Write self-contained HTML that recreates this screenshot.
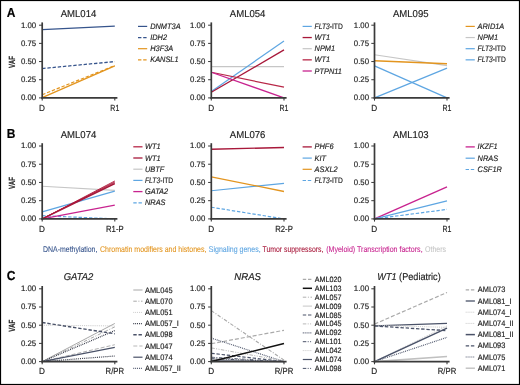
<!DOCTYPE html>
<html><head><meta charset="utf-8"><title>Figure</title>
<style>
html,body{margin:0;padding:0;background:#fff;}
body{width:520px;height:385px;overflow:hidden;}
svg{display:block;font-family:"Liberation Sans", sans-serif;will-change:transform;text-rendering:geometricPrecision;}

</style></head>
<body>
<svg width="520" height="385" viewBox="0 0 520 385" fill="#222">
<rect x="0" y="0" width="520" height="385" fill="#fff"/>
<line x1="42.20" y1="29.71" x2="114.80" y2="26.22" stroke="#36548c" stroke-width="1.2"/>
<line x1="42.20" y1="68.53" x2="114.80" y2="61.55" stroke="#36548c" stroke-width="1.3" stroke-dasharray="3.4 1.8"/>
<line x1="42.20" y1="94.70" x2="114.80" y2="65.55" stroke="#e3951f" stroke-width="1.2" stroke-dasharray="3.4 1.8"/>
<line x1="42.20" y1="97.54" x2="114.80" y2="65.91" stroke="#e3951f" stroke-width="1.3"/>
<line x1="42.20" y1="22.40" x2="42.20" y2="98.75" stroke="#3a3a3a" stroke-width="1.7"/>
<line x1="41.35" y1="97.90" x2="117.40" y2="97.90" stroke="#3a3a3a" stroke-width="1.7"/>
<line x1="39.00" y1="25.20" x2="42.20" y2="25.20" stroke="#3a3a3a" stroke-width="1.0"/>
<text transform="translate(36.20 27.55) scale(1 1.08)" x="0" y="0" font-size="7.4" text-anchor="end" textLength="15.2" lengthAdjust="spacingAndGlyphs" stroke="#222" stroke-width="0.15">1.00</text>
<line x1="39.00" y1="43.38" x2="42.20" y2="43.38" stroke="#3a3a3a" stroke-width="1.0"/>
<text transform="translate(36.20 45.73) scale(1 1.08)" x="0" y="0" font-size="7.4" text-anchor="end" textLength="15.2" lengthAdjust="spacingAndGlyphs" stroke="#222" stroke-width="0.15">0.75</text>
<line x1="39.00" y1="61.55" x2="42.20" y2="61.55" stroke="#3a3a3a" stroke-width="1.0"/>
<text transform="translate(36.20 63.90) scale(1 1.08)" x="0" y="0" font-size="7.4" text-anchor="end" textLength="15.2" lengthAdjust="spacingAndGlyphs" stroke="#222" stroke-width="0.15">0.50</text>
<line x1="39.00" y1="79.73" x2="42.20" y2="79.73" stroke="#3a3a3a" stroke-width="1.0"/>
<text transform="translate(36.20 82.08) scale(1 1.08)" x="0" y="0" font-size="7.4" text-anchor="end" textLength="15.2" lengthAdjust="spacingAndGlyphs" stroke="#222" stroke-width="0.15">0.25</text>
<line x1="39.00" y1="97.90" x2="42.20" y2="97.90" stroke="#3a3a3a" stroke-width="1.0"/>
<text transform="translate(36.20 100.25) scale(1 1.08)" x="0" y="0" font-size="7.4" text-anchor="end" textLength="15.2" lengthAdjust="spacingAndGlyphs" stroke="#222" stroke-width="0.15">0.00</text>
<line x1="42.20" y1="97.90" x2="42.20" y2="100.60" stroke="#3a3a3a" stroke-width="1.1"/>
<line x1="114.80" y1="97.90" x2="114.80" y2="100.60" stroke="#3a3a3a" stroke-width="1.1"/>
<text transform="translate(42.00 110.60) scale(1 1.08)" x="0" y="0" font-size="8.2" text-anchor="middle" stroke="#222" stroke-width="0.15">D</text>
<text transform="translate(114.80 110.60) scale(1 1.08)" x="0" y="0" font-size="8.2" text-anchor="middle" textLength="8.9" lengthAdjust="spacingAndGlyphs" stroke="#222" stroke-width="0.15">R1</text>
<text transform="translate(78.50 16.70) scale(1 1.08)" x="0" y="0" font-size="9.2" text-anchor="middle" textLength="35.6" lengthAdjust="spacingAndGlyphs" stroke="#222" stroke-width="0.15">AML014</text>
<text transform="translate(14.6,62.05) rotate(-90)" font-size="9" font-weight="bold" text-anchor="middle" textLength="12" lengthAdjust="spacingAndGlyphs" stroke="#222" stroke-width="0.15">VAF</text>
<line x1="138.00" y1="26.40" x2="147.20" y2="26.40" stroke="#36548c" stroke-width="1.2"/>
<text transform="translate(150.20 28.90) scale(1 1.08)" x="0" y="0" font-size="7.4" stroke="#222" stroke-width="0.15"><tspan font-style="italic" stroke="#222" stroke-width="0.15">DNMT3A</tspan></text>
<line x1="138.00" y1="37.55" x2="147.20" y2="37.55" stroke="#36548c" stroke-width="1.2" stroke-dasharray="3.4 1.8"/>
<text transform="translate(150.20 40.05) scale(1 1.08)" x="0" y="0" font-size="7.4" stroke="#222" stroke-width="0.15"><tspan font-style="italic" stroke="#222" stroke-width="0.15">IDH2</tspan></text>
<line x1="138.00" y1="48.70" x2="147.20" y2="48.70" stroke="#e3951f" stroke-width="1.2"/>
<text transform="translate(150.20 51.20) scale(1 1.08)" x="0" y="0" font-size="7.4" stroke="#222" stroke-width="0.15"><tspan font-style="italic" stroke="#222" stroke-width="0.15">H3F3A</tspan></text>
<line x1="138.00" y1="59.85" x2="147.20" y2="59.85" stroke="#e3951f" stroke-width="1.2" stroke-dasharray="3.4 1.8"/>
<text transform="translate(150.20 62.35) scale(1 1.08)" x="0" y="0" font-size="7.4" stroke="#222" stroke-width="0.15"><tspan font-style="italic" stroke="#222" stroke-width="0.15">KANSL1</tspan></text>
<line x1="211.30" y1="66.64" x2="284.00" y2="66.64" stroke="#c6c6c6" stroke-width="1.2"/>
<line x1="211.30" y1="91.43" x2="284.00" y2="40.98" stroke="#5ea6e2" stroke-width="1.2"/>
<line x1="211.30" y1="92.23" x2="284.00" y2="49.92" stroke="#a8183a" stroke-width="1.3"/>
<line x1="211.30" y1="72.24" x2="284.00" y2="87.21" stroke="#b82848" stroke-width="1.2"/>
<line x1="211.30" y1="72.24" x2="284.00" y2="97.90" stroke="#c8238f" stroke-width="1.3"/>
<line x1="211.30" y1="22.40" x2="211.30" y2="98.75" stroke="#3a3a3a" stroke-width="1.7"/>
<line x1="210.45" y1="97.90" x2="286.60" y2="97.90" stroke="#3a3a3a" stroke-width="1.7"/>
<line x1="208.10" y1="25.20" x2="211.30" y2="25.20" stroke="#3a3a3a" stroke-width="1.0"/>
<text transform="translate(205.30 27.55) scale(1 1.08)" x="0" y="0" font-size="7.4" text-anchor="end" textLength="15.2" lengthAdjust="spacingAndGlyphs" stroke="#222" stroke-width="0.15">1.00</text>
<line x1="208.10" y1="43.38" x2="211.30" y2="43.38" stroke="#3a3a3a" stroke-width="1.0"/>
<text transform="translate(205.30 45.73) scale(1 1.08)" x="0" y="0" font-size="7.4" text-anchor="end" textLength="15.2" lengthAdjust="spacingAndGlyphs" stroke="#222" stroke-width="0.15">0.75</text>
<line x1="208.10" y1="61.55" x2="211.30" y2="61.55" stroke="#3a3a3a" stroke-width="1.0"/>
<text transform="translate(205.30 63.90) scale(1 1.08)" x="0" y="0" font-size="7.4" text-anchor="end" textLength="15.2" lengthAdjust="spacingAndGlyphs" stroke="#222" stroke-width="0.15">0.50</text>
<line x1="208.10" y1="79.73" x2="211.30" y2="79.73" stroke="#3a3a3a" stroke-width="1.0"/>
<text transform="translate(205.30 82.08) scale(1 1.08)" x="0" y="0" font-size="7.4" text-anchor="end" textLength="15.2" lengthAdjust="spacingAndGlyphs" stroke="#222" stroke-width="0.15">0.25</text>
<line x1="208.10" y1="97.90" x2="211.30" y2="97.90" stroke="#3a3a3a" stroke-width="1.0"/>
<text transform="translate(205.30 100.25) scale(1 1.08)" x="0" y="0" font-size="7.4" text-anchor="end" textLength="15.2" lengthAdjust="spacingAndGlyphs" stroke="#222" stroke-width="0.15">0.00</text>
<line x1="211.30" y1="97.90" x2="211.30" y2="100.60" stroke="#3a3a3a" stroke-width="1.1"/>
<line x1="284.00" y1="97.90" x2="284.00" y2="100.60" stroke="#3a3a3a" stroke-width="1.1"/>
<text transform="translate(211.10 110.60) scale(1 1.08)" x="0" y="0" font-size="8.2" text-anchor="middle" stroke="#222" stroke-width="0.15">D</text>
<text transform="translate(284.00 110.60) scale(1 1.08)" x="0" y="0" font-size="8.2" text-anchor="middle" textLength="8.9" lengthAdjust="spacingAndGlyphs" stroke="#222" stroke-width="0.15">R1</text>
<text transform="translate(247.65 16.70) scale(1 1.08)" x="0" y="0" font-size="9.2" text-anchor="middle" textLength="35.6" lengthAdjust="spacingAndGlyphs" stroke="#222" stroke-width="0.15">AML054</text>
<line x1="302.60" y1="26.40" x2="311.80" y2="26.40" stroke="#5ea6e2" stroke-width="1.2"/>
<text transform="translate(314.60 28.90) scale(1 1.08)" x="0" y="0" font-size="7.4" textLength="28.2" lengthAdjust="spacingAndGlyphs" stroke="#222" stroke-width="0.15"><tspan font-style="italic" stroke="#222" stroke-width="0.15">FLT3</tspan>-ITD</text>
<line x1="302.60" y1="37.55" x2="311.80" y2="37.55" stroke="#a8183a" stroke-width="1.3"/>
<text transform="translate(314.60 40.05) scale(1 1.08)" x="0" y="0" font-size="7.4" stroke="#222" stroke-width="0.15"><tspan font-style="italic" stroke="#222" stroke-width="0.15">WT1</tspan></text>
<line x1="302.60" y1="48.70" x2="311.80" y2="48.70" stroke="#c6c6c6" stroke-width="1.2"/>
<text transform="translate(314.60 51.20) scale(1 1.08)" x="0" y="0" font-size="7.4" stroke="#222" stroke-width="0.15"><tspan font-style="italic" stroke="#222" stroke-width="0.15">NPM1</tspan></text>
<line x1="302.60" y1="59.85" x2="311.80" y2="59.85" stroke="#b82848" stroke-width="1.3"/>
<text transform="translate(314.60 62.35) scale(1 1.08)" x="0" y="0" font-size="7.4" stroke="#222" stroke-width="0.15"><tspan font-style="italic" stroke="#222" stroke-width="0.15">WT1</tspan></text>
<line x1="302.60" y1="71.00" x2="311.80" y2="71.00" stroke="#c8238f" stroke-width="1.3"/>
<text transform="translate(314.60 73.50) scale(1 1.08)" x="0" y="0" font-size="7.4" stroke="#222" stroke-width="0.15"><tspan font-style="italic" stroke="#222" stroke-width="0.15">PTPN11</tspan></text>
<line x1="374.50" y1="54.72" x2="447.00" y2="65.69" stroke="#c6c6c6" stroke-width="1.2"/>
<line x1="374.50" y1="60.68" x2="447.00" y2="63.73" stroke="#e3951f" stroke-width="1.4"/>
<line x1="374.50" y1="65.91" x2="447.00" y2="97.90" stroke="#5ea6e2" stroke-width="1.2"/>
<line x1="374.50" y1="97.90" x2="447.00" y2="68.09" stroke="#5ea6e2" stroke-width="1.2"/>
<line x1="374.50" y1="22.40" x2="374.50" y2="98.75" stroke="#3a3a3a" stroke-width="1.7"/>
<line x1="373.65" y1="97.90" x2="449.60" y2="97.90" stroke="#3a3a3a" stroke-width="1.7"/>
<line x1="371.30" y1="25.20" x2="374.50" y2="25.20" stroke="#3a3a3a" stroke-width="1.0"/>
<text transform="translate(369.00 27.55) scale(1 1.08)" x="0" y="0" font-size="7.4" text-anchor="end" textLength="15.2" lengthAdjust="spacingAndGlyphs" stroke="#222" stroke-width="0.15">1.00</text>
<line x1="371.30" y1="43.38" x2="374.50" y2="43.38" stroke="#3a3a3a" stroke-width="1.0"/>
<text transform="translate(369.00 45.73) scale(1 1.08)" x="0" y="0" font-size="7.4" text-anchor="end" textLength="15.2" lengthAdjust="spacingAndGlyphs" stroke="#222" stroke-width="0.15">0.75</text>
<line x1="371.30" y1="61.55" x2="374.50" y2="61.55" stroke="#3a3a3a" stroke-width="1.0"/>
<text transform="translate(369.00 63.90) scale(1 1.08)" x="0" y="0" font-size="7.4" text-anchor="end" textLength="15.2" lengthAdjust="spacingAndGlyphs" stroke="#222" stroke-width="0.15">0.50</text>
<line x1="371.30" y1="79.73" x2="374.50" y2="79.73" stroke="#3a3a3a" stroke-width="1.0"/>
<text transform="translate(369.00 82.08) scale(1 1.08)" x="0" y="0" font-size="7.4" text-anchor="end" textLength="15.2" lengthAdjust="spacingAndGlyphs" stroke="#222" stroke-width="0.15">0.25</text>
<line x1="371.30" y1="97.90" x2="374.50" y2="97.90" stroke="#3a3a3a" stroke-width="1.0"/>
<text transform="translate(369.00 100.25) scale(1 1.08)" x="0" y="0" font-size="7.4" text-anchor="end" textLength="15.2" lengthAdjust="spacingAndGlyphs" stroke="#222" stroke-width="0.15">0.00</text>
<line x1="374.50" y1="97.90" x2="374.50" y2="100.60" stroke="#3a3a3a" stroke-width="1.1"/>
<line x1="447.00" y1="97.90" x2="447.00" y2="100.60" stroke="#3a3a3a" stroke-width="1.1"/>
<text transform="translate(374.30 110.60) scale(1 1.08)" x="0" y="0" font-size="8.2" text-anchor="middle" stroke="#222" stroke-width="0.15">D</text>
<text transform="translate(447.00 110.60) scale(1 1.08)" x="0" y="0" font-size="8.2" text-anchor="middle" textLength="8.9" lengthAdjust="spacingAndGlyphs" stroke="#222" stroke-width="0.15">R1</text>
<text transform="translate(410.75 16.70) scale(1 1.08)" x="0" y="0" font-size="9.2" text-anchor="middle" textLength="35.6" lengthAdjust="spacingAndGlyphs" stroke="#222" stroke-width="0.15">AML095</text>
<line x1="465.60" y1="26.40" x2="474.80" y2="26.40" stroke="#e3951f" stroke-width="1.2"/>
<text transform="translate(477.60 28.90) scale(1 1.08)" x="0" y="0" font-size="7.4" stroke="#222" stroke-width="0.15"><tspan font-style="italic" stroke="#222" stroke-width="0.15">ARID1A</tspan></text>
<line x1="465.60" y1="37.55" x2="474.80" y2="37.55" stroke="#c6c6c6" stroke-width="1.2"/>
<text transform="translate(477.60 40.05) scale(1 1.08)" x="0" y="0" font-size="7.4" stroke="#222" stroke-width="0.15"><tspan font-style="italic" stroke="#222" stroke-width="0.15">NPM1</tspan></text>
<line x1="465.60" y1="48.70" x2="474.80" y2="48.70" stroke="#5ea6e2" stroke-width="1.2"/>
<text transform="translate(477.60 51.20) scale(1 1.08)" x="0" y="0" font-size="7.4" textLength="28.2" lengthAdjust="spacingAndGlyphs" stroke="#222" stroke-width="0.15"><tspan font-style="italic" stroke="#222" stroke-width="0.15">FLT3</tspan>-ITD</text>
<line x1="465.60" y1="59.85" x2="474.80" y2="59.85" stroke="#5ea6e2" stroke-width="1.2"/>
<text transform="translate(477.60 62.35) scale(1 1.08)" x="0" y="0" font-size="7.4" textLength="28.2" lengthAdjust="spacingAndGlyphs" stroke="#222" stroke-width="0.15"><tspan font-style="italic" stroke="#222" stroke-width="0.15">FLT3</tspan>-ITD</text>
<line x1="42.20" y1="186.24" x2="114.80" y2="190.47" stroke="#c6c6c6" stroke-width="1.2"/>
<line x1="42.20" y1="211.90" x2="114.80" y2="191.20" stroke="#5ea6e2" stroke-width="1.2"/>
<line x1="42.20" y1="215.69" x2="114.80" y2="218.90" stroke="#5ea6e2" stroke-width="1.2" stroke-dasharray="3.4 1.8"/>
<line x1="42.20" y1="218.90" x2="114.80" y2="205.05" stroke="#c8238f" stroke-width="1.2"/>
<line x1="42.20" y1="218.90" x2="114.80" y2="180.99" stroke="#b82848" stroke-width="1.0"/>
<line x1="42.20" y1="218.90" x2="114.80" y2="183.54" stroke="#a8183a" stroke-width="1.6"/>
<line x1="42.20" y1="218.90" x2="114.80" y2="182.09" stroke="#a8183a" stroke-width="1.0"/>
<line x1="42.20" y1="143.20" x2="42.20" y2="219.75" stroke="#3a3a3a" stroke-width="1.7"/>
<line x1="41.35" y1="218.90" x2="117.40" y2="218.90" stroke="#3a3a3a" stroke-width="1.7"/>
<line x1="39.00" y1="146.00" x2="42.20" y2="146.00" stroke="#3a3a3a" stroke-width="1.0"/>
<text transform="translate(36.20 148.35) scale(1 1.08)" x="0" y="0" font-size="7.4" text-anchor="end" textLength="15.2" lengthAdjust="spacingAndGlyphs" stroke="#222" stroke-width="0.15">1.00</text>
<line x1="39.00" y1="164.22" x2="42.20" y2="164.22" stroke="#3a3a3a" stroke-width="1.0"/>
<text transform="translate(36.20 166.57) scale(1 1.08)" x="0" y="0" font-size="7.4" text-anchor="end" textLength="15.2" lengthAdjust="spacingAndGlyphs" stroke="#222" stroke-width="0.15">0.75</text>
<line x1="39.00" y1="182.45" x2="42.20" y2="182.45" stroke="#3a3a3a" stroke-width="1.0"/>
<text transform="translate(36.20 184.80) scale(1 1.08)" x="0" y="0" font-size="7.4" text-anchor="end" textLength="15.2" lengthAdjust="spacingAndGlyphs" stroke="#222" stroke-width="0.15">0.50</text>
<line x1="39.00" y1="200.68" x2="42.20" y2="200.68" stroke="#3a3a3a" stroke-width="1.0"/>
<text transform="translate(36.20 203.03) scale(1 1.08)" x="0" y="0" font-size="7.4" text-anchor="end" textLength="15.2" lengthAdjust="spacingAndGlyphs" stroke="#222" stroke-width="0.15">0.25</text>
<line x1="39.00" y1="218.90" x2="42.20" y2="218.90" stroke="#3a3a3a" stroke-width="1.0"/>
<text transform="translate(36.20 221.25) scale(1 1.08)" x="0" y="0" font-size="7.4" text-anchor="end" textLength="15.2" lengthAdjust="spacingAndGlyphs" stroke="#222" stroke-width="0.15">0.00</text>
<line x1="42.20" y1="218.90" x2="42.20" y2="221.60" stroke="#3a3a3a" stroke-width="1.1"/>
<line x1="114.80" y1="218.90" x2="114.80" y2="221.60" stroke="#3a3a3a" stroke-width="1.1"/>
<text transform="translate(42.00 231.60) scale(1 1.08)" x="0" y="0" font-size="8.2" text-anchor="middle" stroke="#222" stroke-width="0.15">D</text>
<text transform="translate(114.80 231.60) scale(1 1.08)" x="0" y="0" font-size="8.2" text-anchor="middle" textLength="17.6" lengthAdjust="spacingAndGlyphs" stroke="#222" stroke-width="0.15">R1-P</text>
<text transform="translate(78.50 137.50) scale(1 1.08)" x="0" y="0" font-size="9.2" text-anchor="middle" textLength="35.6" lengthAdjust="spacingAndGlyphs" stroke="#222" stroke-width="0.15">AML074</text>
<text transform="translate(14.6,182.95) rotate(-90)" font-size="9" font-weight="bold" text-anchor="middle" textLength="12" lengthAdjust="spacingAndGlyphs" stroke="#222" stroke-width="0.15">VAF</text>
<line x1="133.30" y1="146.80" x2="142.50" y2="146.80" stroke="#b82848" stroke-width="1.3"/>
<text transform="translate(145.00 149.30) scale(1 1.08)" x="0" y="0" font-size="7.4" stroke="#222" stroke-width="0.15"><tspan font-style="italic" stroke="#222" stroke-width="0.15">WT1</tspan></text>
<line x1="133.30" y1="158.00" x2="142.50" y2="158.00" stroke="#a8183a" stroke-width="1.3"/>
<text transform="translate(145.00 160.50) scale(1 1.08)" x="0" y="0" font-size="7.4" stroke="#222" stroke-width="0.15"><tspan font-style="italic" stroke="#222" stroke-width="0.15">WT1</tspan></text>
<line x1="133.30" y1="169.20" x2="142.50" y2="169.20" stroke="#c6c6c6" stroke-width="1.2"/>
<text transform="translate(145.00 171.70) scale(1 1.08)" x="0" y="0" font-size="7.4" stroke="#222" stroke-width="0.15"><tspan font-style="italic" stroke="#222" stroke-width="0.15">UBTF</tspan></text>
<line x1="133.30" y1="180.40" x2="142.50" y2="180.40" stroke="#5ea6e2" stroke-width="1.2"/>
<text transform="translate(145.00 182.90) scale(1 1.08)" x="0" y="0" font-size="7.4" textLength="28.2" lengthAdjust="spacingAndGlyphs" stroke="#222" stroke-width="0.15"><tspan font-style="italic" stroke="#222" stroke-width="0.15">FLT3</tspan>-ITD</text>
<line x1="133.30" y1="191.60" x2="142.50" y2="191.60" stroke="#c8238f" stroke-width="1.3"/>
<text transform="translate(145.00 194.10) scale(1 1.08)" x="0" y="0" font-size="7.4" stroke="#222" stroke-width="0.15"><tspan font-style="italic" stroke="#222" stroke-width="0.15">GATA2</tspan></text>
<line x1="133.30" y1="202.80" x2="142.50" y2="202.80" stroke="#5ea6e2" stroke-width="1.2" stroke-dasharray="3.4 1.8"/>
<text transform="translate(145.00 205.30) scale(1 1.08)" x="0" y="0" font-size="7.4" stroke="#222" stroke-width="0.15"><tspan font-style="italic" stroke="#222" stroke-width="0.15">NRAS</tspan></text>
<line x1="211.30" y1="149.21" x2="284.00" y2="147.46" stroke="#a8183a" stroke-width="1.4"/>
<line x1="211.30" y1="190.76" x2="284.00" y2="183.32" stroke="#5ea6e2" stroke-width="1.2"/>
<line x1="211.30" y1="176.84" x2="284.00" y2="191.49" stroke="#e3951f" stroke-width="1.3"/>
<line x1="211.30" y1="207.24" x2="284.00" y2="218.90" stroke="#5ea6e2" stroke-width="1.2" stroke-dasharray="3.4 1.8"/>
<line x1="211.30" y1="143.20" x2="211.30" y2="219.75" stroke="#3a3a3a" stroke-width="1.7"/>
<line x1="210.45" y1="218.90" x2="286.60" y2="218.90" stroke="#3a3a3a" stroke-width="1.7"/>
<line x1="208.10" y1="146.00" x2="211.30" y2="146.00" stroke="#3a3a3a" stroke-width="1.0"/>
<text transform="translate(205.30 148.35) scale(1 1.08)" x="0" y="0" font-size="7.4" text-anchor="end" textLength="15.2" lengthAdjust="spacingAndGlyphs" stroke="#222" stroke-width="0.15">1.00</text>
<line x1="208.10" y1="164.22" x2="211.30" y2="164.22" stroke="#3a3a3a" stroke-width="1.0"/>
<text transform="translate(205.30 166.57) scale(1 1.08)" x="0" y="0" font-size="7.4" text-anchor="end" textLength="15.2" lengthAdjust="spacingAndGlyphs" stroke="#222" stroke-width="0.15">0.75</text>
<line x1="208.10" y1="182.45" x2="211.30" y2="182.45" stroke="#3a3a3a" stroke-width="1.0"/>
<text transform="translate(205.30 184.80) scale(1 1.08)" x="0" y="0" font-size="7.4" text-anchor="end" textLength="15.2" lengthAdjust="spacingAndGlyphs" stroke="#222" stroke-width="0.15">0.50</text>
<line x1="208.10" y1="200.68" x2="211.30" y2="200.68" stroke="#3a3a3a" stroke-width="1.0"/>
<text transform="translate(205.30 203.03) scale(1 1.08)" x="0" y="0" font-size="7.4" text-anchor="end" textLength="15.2" lengthAdjust="spacingAndGlyphs" stroke="#222" stroke-width="0.15">0.25</text>
<line x1="208.10" y1="218.90" x2="211.30" y2="218.90" stroke="#3a3a3a" stroke-width="1.0"/>
<text transform="translate(205.30 221.25) scale(1 1.08)" x="0" y="0" font-size="7.4" text-anchor="end" textLength="15.2" lengthAdjust="spacingAndGlyphs" stroke="#222" stroke-width="0.15">0.00</text>
<line x1="211.30" y1="218.90" x2="211.30" y2="221.60" stroke="#3a3a3a" stroke-width="1.1"/>
<line x1="284.00" y1="218.90" x2="284.00" y2="221.60" stroke="#3a3a3a" stroke-width="1.1"/>
<text transform="translate(211.10 231.60) scale(1 1.08)" x="0" y="0" font-size="8.2" text-anchor="middle" stroke="#222" stroke-width="0.15">D</text>
<text transform="translate(284.00 231.60) scale(1 1.08)" x="0" y="0" font-size="8.2" text-anchor="middle" textLength="17.6" lengthAdjust="spacingAndGlyphs" stroke="#222" stroke-width="0.15">R2-P</text>
<text transform="translate(247.65 137.50) scale(1 1.08)" x="0" y="0" font-size="9.2" text-anchor="middle" textLength="35.6" lengthAdjust="spacingAndGlyphs" stroke="#222" stroke-width="0.15">AML076</text>
<line x1="302.60" y1="146.90" x2="311.80" y2="146.90" stroke="#a8183a" stroke-width="1.3"/>
<text transform="translate(314.60 149.40) scale(1 1.08)" x="0" y="0" font-size="7.4" stroke="#222" stroke-width="0.15"><tspan font-style="italic" stroke="#222" stroke-width="0.15">PHF6</tspan></text>
<line x1="302.60" y1="158.10" x2="311.80" y2="158.10" stroke="#5ea6e2" stroke-width="1.2"/>
<text transform="translate(314.60 160.60) scale(1 1.08)" x="0" y="0" font-size="7.4" stroke="#222" stroke-width="0.15"><tspan font-style="italic" stroke="#222" stroke-width="0.15">KIT</tspan></text>
<line x1="302.60" y1="169.30" x2="311.80" y2="169.30" stroke="#e3951f" stroke-width="1.2"/>
<text transform="translate(314.60 171.80) scale(1 1.08)" x="0" y="0" font-size="7.4" stroke="#222" stroke-width="0.15"><tspan font-style="italic" stroke="#222" stroke-width="0.15">ASXL2</tspan></text>
<line x1="302.60" y1="180.50" x2="311.80" y2="180.50" stroke="#5ea6e2" stroke-width="1.2" stroke-dasharray="3.4 1.8"/>
<text transform="translate(314.60 183.00) scale(1 1.08)" x="0" y="0" font-size="7.4" textLength="28.2" lengthAdjust="spacingAndGlyphs" stroke="#222" stroke-width="0.15"><tspan font-style="italic" stroke="#222" stroke-width="0.15">FLT3</tspan>-ITD</text>
<line x1="374.50" y1="218.90" x2="447.00" y2="186.82" stroke="#c8238f" stroke-width="1.3"/>
<line x1="374.50" y1="218.90" x2="447.00" y2="200.89" stroke="#5ea6e2" stroke-width="1.2"/>
<line x1="374.50" y1="218.90" x2="447.00" y2="209.42" stroke="#5ea6e2" stroke-width="1.2" stroke-dasharray="3.4 1.8"/>
<line x1="374.50" y1="143.20" x2="374.50" y2="219.75" stroke="#3a3a3a" stroke-width="1.7"/>
<line x1="373.65" y1="218.90" x2="449.60" y2="218.90" stroke="#3a3a3a" stroke-width="1.7"/>
<line x1="371.30" y1="146.00" x2="374.50" y2="146.00" stroke="#3a3a3a" stroke-width="1.0"/>
<text transform="translate(369.00 148.35) scale(1 1.08)" x="0" y="0" font-size="7.4" text-anchor="end" textLength="15.2" lengthAdjust="spacingAndGlyphs" stroke="#222" stroke-width="0.15">1.00</text>
<line x1="371.30" y1="164.22" x2="374.50" y2="164.22" stroke="#3a3a3a" stroke-width="1.0"/>
<text transform="translate(369.00 166.57) scale(1 1.08)" x="0" y="0" font-size="7.4" text-anchor="end" textLength="15.2" lengthAdjust="spacingAndGlyphs" stroke="#222" stroke-width="0.15">0.75</text>
<line x1="371.30" y1="182.45" x2="374.50" y2="182.45" stroke="#3a3a3a" stroke-width="1.0"/>
<text transform="translate(369.00 184.80) scale(1 1.08)" x="0" y="0" font-size="7.4" text-anchor="end" textLength="15.2" lengthAdjust="spacingAndGlyphs" stroke="#222" stroke-width="0.15">0.50</text>
<line x1="371.30" y1="200.68" x2="374.50" y2="200.68" stroke="#3a3a3a" stroke-width="1.0"/>
<text transform="translate(369.00 203.03) scale(1 1.08)" x="0" y="0" font-size="7.4" text-anchor="end" textLength="15.2" lengthAdjust="spacingAndGlyphs" stroke="#222" stroke-width="0.15">0.25</text>
<line x1="371.30" y1="218.90" x2="374.50" y2="218.90" stroke="#3a3a3a" stroke-width="1.0"/>
<text transform="translate(369.00 221.25) scale(1 1.08)" x="0" y="0" font-size="7.4" text-anchor="end" textLength="15.2" lengthAdjust="spacingAndGlyphs" stroke="#222" stroke-width="0.15">0.00</text>
<line x1="374.50" y1="218.90" x2="374.50" y2="221.60" stroke="#3a3a3a" stroke-width="1.1"/>
<line x1="447.00" y1="218.90" x2="447.00" y2="221.60" stroke="#3a3a3a" stroke-width="1.1"/>
<text transform="translate(374.30 231.60) scale(1 1.08)" x="0" y="0" font-size="8.2" text-anchor="middle" stroke="#222" stroke-width="0.15">D</text>
<text transform="translate(447.00 231.60) scale(1 1.08)" x="0" y="0" font-size="8.2" text-anchor="middle" textLength="8.9" lengthAdjust="spacingAndGlyphs" stroke="#222" stroke-width="0.15">R1</text>
<text transform="translate(410.75 137.50) scale(1 1.08)" x="0" y="0" font-size="9.2" text-anchor="middle" textLength="35.6" lengthAdjust="spacingAndGlyphs" stroke="#222" stroke-width="0.15">AML103</text>
<line x1="465.60" y1="146.90" x2="474.80" y2="146.90" stroke="#c8238f" stroke-width="1.3"/>
<text transform="translate(477.60 149.40) scale(1 1.08)" x="0" y="0" font-size="7.4" stroke="#222" stroke-width="0.15"><tspan font-style="italic" stroke="#222" stroke-width="0.15">IKZF1</tspan></text>
<line x1="465.60" y1="158.20" x2="474.80" y2="158.20" stroke="#5ea6e2" stroke-width="1.2"/>
<text transform="translate(477.60 160.70) scale(1 1.08)" x="0" y="0" font-size="7.4" stroke="#222" stroke-width="0.15"><tspan font-style="italic" stroke="#222" stroke-width="0.15">NRAS</tspan></text>
<line x1="465.60" y1="169.50" x2="474.80" y2="169.50" stroke="#5ea6e2" stroke-width="1.2" stroke-dasharray="3.4 1.8"/>
<text transform="translate(477.60 172.00) scale(1 1.08)" x="0" y="0" font-size="7.4" stroke="#222" stroke-width="0.15"><tspan font-style="italic" stroke="#222" stroke-width="0.15">CSF1R</tspan></text>
<text transform="translate(43.10 252.30) scale(1 1.08)" x="0" y="0" font-size="7.7" fill="#36548c" textLength="54.30" lengthAdjust="spacingAndGlyphs" stroke="#36548c" stroke-width="0.08">DNA-methylation,</text>
<text transform="translate(100.00 252.30) scale(1 1.08)" x="0" y="0" font-size="7.7" fill="#e3951f" textLength="106.40" lengthAdjust="spacingAndGlyphs" stroke="#e3951f" stroke-width="0.08">Chromatin modifiers and histones,</text>
<text transform="translate(208.80 252.30) scale(1 1.08)" x="0" y="0" font-size="7.7" fill="#5ea6e2" textLength="51.80" lengthAdjust="spacingAndGlyphs" stroke="#5ea6e2" stroke-width="0.08">Signaling genes,</text>
<text transform="translate(262.50 252.30) scale(1 1.08)" x="0" y="0" font-size="7.7" fill="#a8183a" textLength="60.90" lengthAdjust="spacingAndGlyphs" stroke="#a8183a" stroke-width="0.08">Tumor suppressors,</text>
<text transform="translate(326.20 252.30) scale(1 1.08)" x="0" y="0" font-size="7.7" fill="#c8238f" textLength="96.40" lengthAdjust="spacingAndGlyphs" stroke="#c8238f" stroke-width="0.08">(Myeloid) Transcription factors,</text>
<text transform="translate(425.00 252.30) scale(1 1.08)" x="0" y="0" font-size="7.7" fill="#c6c6c6" textLength="21.00" lengthAdjust="spacingAndGlyphs" stroke="#c6c6c6" stroke-width="0.08">Others</text>
<line x1="42.20" y1="325.20" x2="114.80" y2="325.93" stroke="#c6c6c6" stroke-width="1.0" stroke-dasharray="0.9 1.0"/>
<line x1="42.20" y1="361.60" x2="114.80" y2="323.45" stroke="#a8a8a8" stroke-width="1.0"/>
<line x1="42.20" y1="361.60" x2="114.80" y2="326.87" stroke="#a8a8a8" stroke-width="1.0" stroke-dasharray="3.5 1.6 1 1.6"/>
<line x1="42.20" y1="361.60" x2="114.80" y2="330.59" stroke="#2e3240" stroke-width="1.2" stroke-dasharray="0.9 1.0"/>
<line x1="42.20" y1="322.51" x2="114.80" y2="333.79" stroke="#4a5268" stroke-width="1.4" stroke-dasharray="3.4 1.8"/>
<line x1="42.20" y1="361.60" x2="114.80" y2="344.71" stroke="#b0b0b0" stroke-width="1.0" stroke-dasharray="4 2"/>
<line x1="42.20" y1="361.60" x2="114.80" y2="347.40" stroke="#4a5268" stroke-width="1.2"/>
<line x1="42.20" y1="361.60" x2="114.80" y2="355.99" stroke="#2e3240" stroke-width="1.2" stroke-dasharray="0.9 1.0"/>
<line x1="42.20" y1="286.00" x2="42.20" y2="362.45" stroke="#3a3a3a" stroke-width="1.7"/>
<line x1="41.35" y1="361.60" x2="117.40" y2="361.60" stroke="#3a3a3a" stroke-width="1.7"/>
<line x1="39.00" y1="288.80" x2="42.20" y2="288.80" stroke="#3a3a3a" stroke-width="1.0"/>
<text transform="translate(36.20 291.15) scale(1 1.08)" x="0" y="0" font-size="7.4" text-anchor="end" textLength="15.2" lengthAdjust="spacingAndGlyphs" stroke="#222" stroke-width="0.15">1.00</text>
<line x1="39.00" y1="307.00" x2="42.20" y2="307.00" stroke="#3a3a3a" stroke-width="1.0"/>
<text transform="translate(36.20 309.35) scale(1 1.08)" x="0" y="0" font-size="7.4" text-anchor="end" textLength="15.2" lengthAdjust="spacingAndGlyphs" stroke="#222" stroke-width="0.15">0.75</text>
<line x1="39.00" y1="325.20" x2="42.20" y2="325.20" stroke="#3a3a3a" stroke-width="1.0"/>
<text transform="translate(36.20 327.55) scale(1 1.08)" x="0" y="0" font-size="7.4" text-anchor="end" textLength="15.2" lengthAdjust="spacingAndGlyphs" stroke="#222" stroke-width="0.15">0.50</text>
<line x1="39.00" y1="343.40" x2="42.20" y2="343.40" stroke="#3a3a3a" stroke-width="1.0"/>
<text transform="translate(36.20 345.75) scale(1 1.08)" x="0" y="0" font-size="7.4" text-anchor="end" textLength="15.2" lengthAdjust="spacingAndGlyphs" stroke="#222" stroke-width="0.15">0.25</text>
<line x1="39.00" y1="361.60" x2="42.20" y2="361.60" stroke="#3a3a3a" stroke-width="1.0"/>
<text transform="translate(36.20 363.95) scale(1 1.08)" x="0" y="0" font-size="7.4" text-anchor="end" textLength="15.2" lengthAdjust="spacingAndGlyphs" stroke="#222" stroke-width="0.15">0.00</text>
<line x1="42.20" y1="361.60" x2="42.20" y2="364.30" stroke="#3a3a3a" stroke-width="1.1"/>
<line x1="114.80" y1="361.60" x2="114.80" y2="364.30" stroke="#3a3a3a" stroke-width="1.1"/>
<text transform="translate(42.00 374.30) scale(1 1.08)" x="0" y="0" font-size="8.2" text-anchor="middle" stroke="#222" stroke-width="0.15">D</text>
<text transform="translate(114.80 374.30) scale(1 1.08)" x="0" y="0" font-size="8.2" text-anchor="middle" textLength="18.4" lengthAdjust="spacingAndGlyphs" stroke="#222" stroke-width="0.15">R/PR</text>
<text transform="translate(78.50 280.30) scale(1 1.08)" x="0" y="0" font-size="9.2" text-anchor="middle" font-style="italic" textLength="29.6" lengthAdjust="spacingAndGlyphs" stroke="#222" stroke-width="0.15">GATA2</text>
<text transform="translate(14.6,325.70) rotate(-90)" font-size="9" font-weight="bold" text-anchor="middle" textLength="12" lengthAdjust="spacingAndGlyphs" stroke="#222" stroke-width="0.15">VAF</text>
<line x1="133.30" y1="290.00" x2="142.50" y2="290.00" stroke="#a8a8a8" stroke-width="1.0"/>
<text transform="translate(145.00 292.50) scale(1 1.08)" x="0" y="0" font-size="7.4" stroke="#222" stroke-width="0.15">AML045</text>
<line x1="133.30" y1="301.20" x2="142.50" y2="301.20" stroke="#a8a8a8" stroke-width="1.0" stroke-dasharray="3.5 1.6 1 1.6"/>
<text transform="translate(145.00 303.70) scale(1 1.08)" x="0" y="0" font-size="7.4" stroke="#222" stroke-width="0.15">AML070</text>
<line x1="133.30" y1="312.40" x2="142.50" y2="312.40" stroke="#c6c6c6" stroke-width="1.0" stroke-dasharray="0.9 1.0"/>
<text transform="translate(145.00 314.90) scale(1 1.08)" x="0" y="0" font-size="7.4" stroke="#222" stroke-width="0.15">AML051</text>
<line x1="133.30" y1="323.60" x2="142.50" y2="323.60" stroke="#2e3240" stroke-width="1.2" stroke-dasharray="0.9 1.0"/>
<text transform="translate(145.00 326.10) scale(1 1.08)" x="0" y="0" font-size="7.4" stroke="#222" stroke-width="0.15">AML057_I</text>
<line x1="133.30" y1="334.80" x2="142.50" y2="334.80" stroke="#4a5268" stroke-width="1.4" stroke-dasharray="3.4 1.8"/>
<text transform="translate(145.00 337.30) scale(1 1.08)" x="0" y="0" font-size="7.4" stroke="#222" stroke-width="0.15">AML098</text>
<line x1="133.30" y1="346.00" x2="142.50" y2="346.00" stroke="#b8b8b8" stroke-width="1.0" stroke-dasharray="4 2"/>
<text transform="translate(145.00 348.50) scale(1 1.08)" x="0" y="0" font-size="7.4" stroke="#222" stroke-width="0.15">AML047</text>
<line x1="133.30" y1="357.20" x2="142.50" y2="357.20" stroke="#4a5268" stroke-width="1.2"/>
<text transform="translate(145.00 359.70) scale(1 1.08)" x="0" y="0" font-size="7.4" stroke="#222" stroke-width="0.15">AML074</text>
<line x1="133.30" y1="368.40" x2="142.50" y2="368.40" stroke="#4a5268" stroke-width="1.2" stroke-dasharray="0.9 1.0"/>
<text transform="translate(145.00 370.90) scale(1 1.08)" x="0" y="0" font-size="7.4" stroke="#222" stroke-width="0.15">AML057_II</text>
<line x1="211.30" y1="310.64" x2="284.00" y2="360.14" stroke="#a8a8a8" stroke-width="1.1" stroke-dasharray="3.5 1.6 1 1.6"/>
<line x1="211.30" y1="343.69" x2="284.00" y2="330.30" stroke="#aaaaaa" stroke-width="1.2" stroke-dasharray="4 2"/>
<line x1="211.30" y1="338.09" x2="284.00" y2="361.60" stroke="#4a5268" stroke-width="1.2" stroke-dasharray="0.9 1.0"/>
<line x1="211.30" y1="347.91" x2="284.00" y2="360.87" stroke="#b8b8b8" stroke-width="1.0" stroke-dasharray="3.5 1.4 1 1.4 1 1.4"/>
<line x1="211.30" y1="353.30" x2="284.00" y2="361.60" stroke="#4a5268" stroke-width="1.2" stroke-dasharray="3.4 1.8"/>
<line x1="211.30" y1="357.23" x2="284.00" y2="361.60" stroke="#4a5268" stroke-width="1.0" stroke-dasharray="3.5 1.6 1 1.6"/>
<line x1="211.30" y1="357.96" x2="284.00" y2="361.60" stroke="#c6c6c6" stroke-width="1.0" stroke-dasharray="0.9 1.0"/>
<line x1="211.30" y1="359.42" x2="284.00" y2="361.60" stroke="#c6c6c6" stroke-width="1.0"/>
<line x1="211.30" y1="358.69" x2="284.00" y2="361.60" stroke="#4a5268" stroke-width="1.0" stroke-dasharray="3.5 1.4 1 1.4 1 1.4"/>
<line x1="211.30" y1="360.87" x2="284.00" y2="361.60" stroke="#4a5268" stroke-width="1.2"/>
<line x1="211.30" y1="361.60" x2="284.00" y2="343.40" stroke="#111" stroke-width="1.5"/>
<line x1="211.30" y1="286.00" x2="211.30" y2="362.45" stroke="#3a3a3a" stroke-width="1.7"/>
<line x1="210.45" y1="361.60" x2="286.60" y2="361.60" stroke="#3a3a3a" stroke-width="1.7"/>
<line x1="208.10" y1="288.80" x2="211.30" y2="288.80" stroke="#3a3a3a" stroke-width="1.0"/>
<text transform="translate(205.30 291.15) scale(1 1.08)" x="0" y="0" font-size="7.4" text-anchor="end" textLength="15.2" lengthAdjust="spacingAndGlyphs" stroke="#222" stroke-width="0.15">1.00</text>
<line x1="208.10" y1="307.00" x2="211.30" y2="307.00" stroke="#3a3a3a" stroke-width="1.0"/>
<text transform="translate(205.30 309.35) scale(1 1.08)" x="0" y="0" font-size="7.4" text-anchor="end" textLength="15.2" lengthAdjust="spacingAndGlyphs" stroke="#222" stroke-width="0.15">0.75</text>
<line x1="208.10" y1="325.20" x2="211.30" y2="325.20" stroke="#3a3a3a" stroke-width="1.0"/>
<text transform="translate(205.30 327.55) scale(1 1.08)" x="0" y="0" font-size="7.4" text-anchor="end" textLength="15.2" lengthAdjust="spacingAndGlyphs" stroke="#222" stroke-width="0.15">0.50</text>
<line x1="208.10" y1="343.40" x2="211.30" y2="343.40" stroke="#3a3a3a" stroke-width="1.0"/>
<text transform="translate(205.30 345.75) scale(1 1.08)" x="0" y="0" font-size="7.4" text-anchor="end" textLength="15.2" lengthAdjust="spacingAndGlyphs" stroke="#222" stroke-width="0.15">0.25</text>
<line x1="208.10" y1="361.60" x2="211.30" y2="361.60" stroke="#3a3a3a" stroke-width="1.0"/>
<text transform="translate(205.30 363.95) scale(1 1.08)" x="0" y="0" font-size="7.4" text-anchor="end" textLength="15.2" lengthAdjust="spacingAndGlyphs" stroke="#222" stroke-width="0.15">0.00</text>
<line x1="211.30" y1="361.60" x2="211.30" y2="364.30" stroke="#3a3a3a" stroke-width="1.1"/>
<line x1="284.00" y1="361.60" x2="284.00" y2="364.30" stroke="#3a3a3a" stroke-width="1.1"/>
<text transform="translate(211.10 374.30) scale(1 1.08)" x="0" y="0" font-size="8.2" text-anchor="middle" stroke="#222" stroke-width="0.15">D</text>
<text transform="translate(284.00 374.30) scale(1 1.08)" x="0" y="0" font-size="8.2" text-anchor="middle" textLength="18.4" lengthAdjust="spacingAndGlyphs" stroke="#222" stroke-width="0.15">R/PR</text>
<text transform="translate(247.65 280.30) scale(1 1.08)" x="0" y="0" font-size="9.2" text-anchor="middle" font-style="italic" textLength="26.8" lengthAdjust="spacingAndGlyphs" stroke="#222" stroke-width="0.15">NRAS</text>
<line x1="302.80" y1="279.40" x2="312.00" y2="279.40" stroke="#aaaaaa" stroke-width="1.1" stroke-dasharray="3.4 1.8"/>
<text transform="translate(314.80 281.90) scale(1 1.08)" x="0" y="0" font-size="7.2" stroke="#222" stroke-width="0.15">AML020</text>
<line x1="302.80" y1="288.30" x2="312.00" y2="288.30" stroke="#111" stroke-width="1.5"/>
<text transform="translate(314.80 290.80) scale(1 1.08)" x="0" y="0" font-size="7.2" stroke="#222" stroke-width="0.15">AML103</text>
<line x1="302.80" y1="297.20" x2="312.00" y2="297.20" stroke="#b0b0b0" stroke-width="1.0" stroke-dasharray="3.5 1.6 1 1.6"/>
<text transform="translate(314.80 299.70) scale(1 1.08)" x="0" y="0" font-size="7.2" stroke="#222" stroke-width="0.15">AML057</text>
<line x1="302.80" y1="306.10" x2="312.00" y2="306.10" stroke="#c6c6c6" stroke-width="1.0"/>
<text transform="translate(314.80 308.60) scale(1 1.08)" x="0" y="0" font-size="7.2" stroke="#222" stroke-width="0.15">AML009</text>
<line x1="302.80" y1="315.00" x2="312.00" y2="315.00" stroke="#4a5268" stroke-width="1.2" stroke-dasharray="3.4 1.8"/>
<text transform="translate(314.80 317.50) scale(1 1.08)" x="0" y="0" font-size="7.2" stroke="#222" stroke-width="0.15">AML085</text>
<line x1="302.80" y1="323.90" x2="312.00" y2="323.90" stroke="#b8b8b8" stroke-width="1.0" stroke-dasharray="3.5 1.4 1 1.4 1 1.4"/>
<text transform="translate(314.80 326.40) scale(1 1.08)" x="0" y="0" font-size="7.2" stroke="#222" stroke-width="0.15">AML045</text>
<line x1="302.80" y1="332.80" x2="312.00" y2="332.80" stroke="#4a5268" stroke-width="1.2" stroke-dasharray="0.9 1.0"/>
<text transform="translate(314.80 335.30) scale(1 1.08)" x="0" y="0" font-size="7.2" stroke="#222" stroke-width="0.15">AML092</text>
<line x1="302.80" y1="341.70" x2="312.00" y2="341.70" stroke="#4a5268" stroke-width="1.0" stroke-dasharray="3.5 1.4 1 1.4 1 1.4"/>
<text transform="translate(314.80 344.20) scale(1 1.08)" x="0" y="0" font-size="7.2" stroke="#222" stroke-width="0.15">AML101</text>
<line x1="302.80" y1="350.60" x2="312.00" y2="350.60" stroke="#c6c6c6" stroke-width="1.0" stroke-dasharray="0.9 1.0"/>
<text transform="translate(314.80 353.10) scale(1 1.08)" x="0" y="0" font-size="7.2" stroke="#222" stroke-width="0.15">AML042</text>
<line x1="302.80" y1="359.50" x2="312.00" y2="359.50" stroke="#4a5268" stroke-width="1.2"/>
<text transform="translate(314.80 362.00) scale(1 1.08)" x="0" y="0" font-size="7.2" stroke="#222" stroke-width="0.15">AML074</text>
<line x1="302.80" y1="368.40" x2="312.00" y2="368.40" stroke="#4a5268" stroke-width="1.0" stroke-dasharray="3.5 1.4 1 1.4 1 1.4"/>
<text transform="translate(314.80 370.90) scale(1 1.08)" x="0" y="0" font-size="7.2" stroke="#222" stroke-width="0.15">AML098</text>
<line x1="374.50" y1="324.11" x2="447.00" y2="292.44" stroke="#aaaaaa" stroke-width="1.2" stroke-dasharray="4 2"/>
<line x1="374.50" y1="325.93" x2="447.00" y2="323.31" stroke="#4a5268" stroke-width="1.3"/>
<line x1="374.50" y1="361.60" x2="447.00" y2="325.93" stroke="#c6c6c6" stroke-width="1.0" stroke-dasharray="0.9 1.0"/>
<line x1="374.50" y1="325.20" x2="447.00" y2="327.38" stroke="#c6c6c6" stroke-width="1.0" stroke-dasharray="0.9 1.0"/>
<line x1="374.50" y1="325.93" x2="447.00" y2="330.66" stroke="#4a5268" stroke-width="1.3" stroke-dasharray="3.4 1.8"/>
<line x1="374.50" y1="361.60" x2="447.00" y2="328.11" stroke="#4a5268" stroke-width="1.5"/>
<line x1="374.50" y1="361.60" x2="447.00" y2="337.36" stroke="#4a5268" stroke-width="1.2" stroke-dasharray="0.9 1.0"/>
<line x1="374.50" y1="361.60" x2="447.00" y2="356.50" stroke="#c0c0c0" stroke-width="1.6"/>
<line x1="374.50" y1="286.00" x2="374.50" y2="362.45" stroke="#3a3a3a" stroke-width="1.7"/>
<line x1="373.65" y1="361.60" x2="449.60" y2="361.60" stroke="#3a3a3a" stroke-width="1.7"/>
<line x1="371.30" y1="288.80" x2="374.50" y2="288.80" stroke="#3a3a3a" stroke-width="1.0"/>
<text transform="translate(369.00 291.15) scale(1 1.08)" x="0" y="0" font-size="7.4" text-anchor="end" textLength="15.2" lengthAdjust="spacingAndGlyphs" stroke="#222" stroke-width="0.15">1.00</text>
<line x1="371.30" y1="307.00" x2="374.50" y2="307.00" stroke="#3a3a3a" stroke-width="1.0"/>
<text transform="translate(369.00 309.35) scale(1 1.08)" x="0" y="0" font-size="7.4" text-anchor="end" textLength="15.2" lengthAdjust="spacingAndGlyphs" stroke="#222" stroke-width="0.15">0.75</text>
<line x1="371.30" y1="325.20" x2="374.50" y2="325.20" stroke="#3a3a3a" stroke-width="1.0"/>
<text transform="translate(369.00 327.55) scale(1 1.08)" x="0" y="0" font-size="7.4" text-anchor="end" textLength="15.2" lengthAdjust="spacingAndGlyphs" stroke="#222" stroke-width="0.15">0.50</text>
<line x1="371.30" y1="343.40" x2="374.50" y2="343.40" stroke="#3a3a3a" stroke-width="1.0"/>
<text transform="translate(369.00 345.75) scale(1 1.08)" x="0" y="0" font-size="7.4" text-anchor="end" textLength="15.2" lengthAdjust="spacingAndGlyphs" stroke="#222" stroke-width="0.15">0.25</text>
<line x1="371.30" y1="361.60" x2="374.50" y2="361.60" stroke="#3a3a3a" stroke-width="1.0"/>
<text transform="translate(369.00 363.95) scale(1 1.08)" x="0" y="0" font-size="7.4" text-anchor="end" textLength="15.2" lengthAdjust="spacingAndGlyphs" stroke="#222" stroke-width="0.15">0.00</text>
<line x1="374.50" y1="361.60" x2="374.50" y2="364.30" stroke="#3a3a3a" stroke-width="1.1"/>
<line x1="447.00" y1="361.60" x2="447.00" y2="364.30" stroke="#3a3a3a" stroke-width="1.1"/>
<text transform="translate(374.30 374.30) scale(1 1.08)" x="0" y="0" font-size="8.2" text-anchor="middle" stroke="#222" stroke-width="0.15">D</text>
<text transform="translate(447.00 374.30) scale(1 1.08)" x="0" y="0" font-size="8.2" text-anchor="middle" textLength="18.4" lengthAdjust="spacingAndGlyphs" stroke="#222" stroke-width="0.15">R/PR</text>
<text transform="translate(409.00 280.30) scale(1 1.08)" x="0" y="0" font-size="9.2" text-anchor="middle" textLength="63.4" lengthAdjust="spacingAndGlyphs" stroke="#222" stroke-width="0.15"><tspan font-style="italic" stroke="#222" stroke-width="0.15">WT1</tspan> (Pediatric)</text>
<line x1="465.70" y1="289.80" x2="474.90" y2="289.80" stroke="#aaaaaa" stroke-width="1.2" stroke-dasharray="3.4 1.8"/>
<text transform="translate(477.80 292.30) scale(1 1.08)" x="0" y="0" font-size="7.4" stroke="#222" stroke-width="0.15">AML073</text>
<line x1="465.70" y1="301.00" x2="474.90" y2="301.00" stroke="#4a5268" stroke-width="1.3"/>
<text transform="translate(477.80 303.50) scale(1 1.08)" x="0" y="0" font-size="7.4" stroke="#222" stroke-width="0.15">AML081_I</text>
<line x1="465.70" y1="312.20" x2="474.90" y2="312.20" stroke="#c6c6c6" stroke-width="1.0" stroke-dasharray="0.9 1.0"/>
<text transform="translate(477.80 314.70) scale(1 1.08)" x="0" y="0" font-size="7.4" stroke="#222" stroke-width="0.15">AML074_I</text>
<line x1="465.70" y1="323.40" x2="474.90" y2="323.40" stroke="#c6c6c6" stroke-width="1.0" stroke-dasharray="0.9 1.0"/>
<text transform="translate(477.80 325.90) scale(1 1.08)" x="0" y="0" font-size="7.4" stroke="#222" stroke-width="0.15">AML074_II</text>
<line x1="465.70" y1="334.60" x2="474.90" y2="334.60" stroke="#4a5268" stroke-width="1.5"/>
<text transform="translate(477.80 337.10) scale(1 1.08)" x="0" y="0" font-size="7.4" stroke="#222" stroke-width="0.15">AML081_II</text>
<line x1="465.70" y1="345.80" x2="474.90" y2="345.80" stroke="#4a5268" stroke-width="1.3" stroke-dasharray="3.4 1.8"/>
<text transform="translate(477.80 348.30) scale(1 1.08)" x="0" y="0" font-size="7.4" stroke="#222" stroke-width="0.15">AML093</text>
<line x1="465.70" y1="357.00" x2="474.90" y2="357.00" stroke="#4a5268" stroke-width="1.2" stroke-dasharray="0.9 1.0"/>
<text transform="translate(477.80 359.50) scale(1 1.08)" x="0" y="0" font-size="7.4" stroke="#222" stroke-width="0.15">AML075</text>
<line x1="465.70" y1="368.20" x2="474.90" y2="368.20" stroke="#c0c0c0" stroke-width="1.4"/>
<text transform="translate(477.80 370.70) scale(1 1.08)" x="0" y="0" font-size="7.4" stroke="#222" stroke-width="0.15">AML071</text>
<text transform="translate(6.70 17.00) scale(1 1.08)" x="0" y="0" font-size="12.0" text-anchor="start" font-weight="bold" fill="#000" stroke="#000" stroke-width="0.15">A</text>
<text transform="translate(6.70 137.60) scale(1 1.08)" x="0" y="0" font-size="12.0" text-anchor="start" font-weight="bold" fill="#000" stroke="#000" stroke-width="0.15">B</text>
<text transform="translate(6.70 280.20) scale(1 1.08)" x="0" y="0" font-size="12.0" text-anchor="start" font-weight="bold" fill="#000" stroke="#000" stroke-width="0.15">C</text>
<rect x="0.5" y="0.5" width="519" height="384" fill="none" stroke="#000" stroke-width="1.2"/>
</svg>
</body></html>
